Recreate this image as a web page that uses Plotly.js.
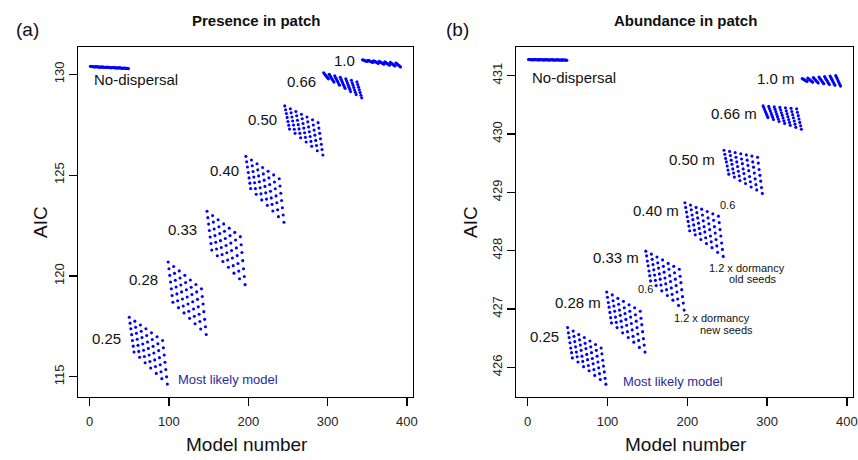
<!DOCTYPE html>
<html><head><meta charset="utf-8">
<script src="https://cdn.plot.ly/plotly-3.0.1.min.js"></script>
<style>html,body{margin:0;padding:0;background:#fff}#chart{width:858px;height:460px}</style>
</head><body><div id="chart"></div>
<script>
// Dispersal-distance groups (49 models each), in model-number order
const groupLabelsA = ['No-dispersal','0.25','0.28','0.33','0.40','0.50','0.66','1.0'];
const groupLabelsB = ['No-dispersal','0.25','0.28 m','0.33 m','0.40 m','0.50 m','0.66 m','1.0 m'];
const xTicks = [0,100,200,300,400];
const yTicksA = [115,120,125,130];
const yTicksB = [426,427,428,429,430,431];

// (a) Presence in patch - AIC
const presNoDisp = [130.390,130.385,130.380,130.375,130.370,130.365,130.360,
130.377,130.372,130.367,130.362,130.357,130.352,130.347,
130.363,130.358,130.353,130.348,130.343,130.338,130.333,
130.350,130.345,130.340,130.335,130.330,130.325,130.320,
130.337,130.332,130.327,130.322,130.317,130.312,130.307,
130.323,130.318,130.313,130.308,130.303,130.298,130.293,
130.310,130.305,130.300,130.295,130.290,130.285,130.280];
const pres025 = [117.95,117.66,117.38,117.09,116.80,116.52,116.23,
117.76,117.46,117.16,116.86,116.56,116.26,115.97,
117.57,117.26,116.95,116.63,116.32,116.01,115.70,
117.38,117.05,116.73,116.41,116.08,115.76,115.44,
117.18,116.85,116.51,116.18,115.84,115.51,115.17,
116.99,116.64,116.30,115.95,115.60,115.25,114.91,
116.80,116.44,116.08,115.72,115.36,115.00,114.64];
const pres028 = [120.69,120.36,120.03,119.70,119.36,119.03,118.70,
120.47,120.13,119.79,119.45,119.11,118.77,118.43,
120.25,119.90,119.55,119.21,118.86,118.51,118.17,
120.03,119.67,119.32,118.96,118.61,118.25,117.90,
119.80,119.44,119.08,118.72,118.36,118.00,117.63,
119.58,119.21,118.84,118.47,118.10,117.74,117.37,
119.36,118.98,118.61,118.23,117.85,117.48,117.10];
const pres033 = [123.21,122.89,122.57,122.25,121.93,121.61,121.29,
123.00,122.67,122.33,122.00,121.67,121.34,121.00,
122.79,122.44,122.10,121.75,121.41,121.06,120.72,
122.58,122.22,121.86,121.51,121.15,120.79,120.43,
122.37,122.00,121.63,121.26,120.89,120.51,120.14,
122.16,121.78,121.39,121.01,120.62,120.24,119.86,
121.95,121.55,121.16,120.76,120.36,119.97,119.57];
const pres040 = [125.93,125.66,125.40,125.13,124.86,124.60,124.33,
125.75,125.46,125.18,124.90,124.62,124.33,124.05,
125.56,125.26,124.96,124.67,124.37,124.07,123.77,
125.38,125.06,124.75,124.44,124.12,123.81,123.50,
125.19,124.86,124.53,124.20,123.87,123.55,123.22,
125.01,124.66,124.32,123.97,123.63,123.28,122.94,
124.82,124.46,124.10,123.74,123.38,123.02,122.66];
const pres050 = [128.43,128.24,128.05,127.86,127.66,127.47,127.28,
128.29,128.09,127.88,127.68,127.48,127.27,127.07,
128.15,127.94,127.72,127.50,127.29,127.07,126.85,
128.02,127.79,127.56,127.33,127.10,126.87,126.64,
127.88,127.64,127.39,127.15,126.91,126.67,126.43,
127.74,127.48,127.23,126.98,126.72,126.47,126.21,
127.60,127.33,127.07,126.80,126.53,126.27,126.00];
const pres066 = [130.07,130.02,129.97,129.92,129.87,129.82,129.77,
130.00,129.93,129.87,129.80,129.74,129.68,129.61,
129.92,129.84,129.77,129.69,129.61,129.53,129.46,
129.85,129.75,129.66,129.57,129.48,129.39,129.30,
129.77,129.67,129.56,129.46,129.35,129.25,129.14,
129.70,129.58,129.46,129.34,129.22,129.11,128.99,
129.62,129.49,129.36,129.23,129.09,128.96,128.83];
const pres100 = [130.720,130.705,130.690,130.675,130.660,130.645,130.630,
130.693,130.675,130.657,130.639,130.621,130.603,130.585,
130.667,130.646,130.625,130.604,130.582,130.561,130.540,
130.640,130.616,130.592,130.567,130.543,130.519,130.495,
130.613,130.586,130.559,130.532,130.504,130.477,130.450,
130.587,130.557,130.526,130.496,130.466,130.435,130.405,
130.560,130.527,130.493,130.460,130.427,130.393,130.360];

// (b) Abundance in patch - AIC
const abunNoDisp = [431.276,431.275,431.274,431.273,431.272,431.271,431.270,
431.275,431.274,431.273,431.272,431.271,431.270,431.269,
431.274,431.273,431.272,431.271,431.270,431.269,431.268,
431.273,431.272,431.271,431.270,431.269,431.268,431.267,
431.272,431.271,431.270,431.269,431.268,431.267,431.266,
431.271,431.270,431.269,431.268,431.267,431.266,431.265,
431.270,431.269,431.268,431.267,431.266,431.265,431.264];
const abun025 = [426.68,426.59,426.51,426.42,426.33,426.25,426.16,
426.62,426.53,426.44,426.35,426.26,426.18,426.09,
426.56,426.47,426.38,426.29,426.19,426.10,426.01,
426.51,426.41,426.32,426.22,426.13,426.03,425.94,
426.45,426.35,426.25,426.15,426.06,425.96,425.86,
426.39,426.29,426.19,426.09,425.99,425.89,425.79,
426.33,426.23,426.12,426.02,425.92,425.81,425.71];
const abun028 = [427.29,427.20,427.11,427.03,426.94,426.85,426.76,
427.24,427.14,427.05,426.96,426.86,426.77,426.68,
427.18,427.08,426.98,426.89,426.79,426.69,426.59,
427.13,427.02,426.92,426.82,426.72,426.61,426.51,
427.07,426.96,426.86,426.75,426.64,426.53,426.43,
427.02,426.90,426.79,426.68,426.57,426.46,426.34,
426.96,426.84,426.73,426.61,426.49,426.38,426.26];
const abun033 = [427.99,427.91,427.82,427.74,427.65,427.57,427.48,
427.94,427.85,427.76,427.67,427.58,427.49,427.40,
427.89,427.79,427.70,427.60,427.51,427.41,427.31,
427.84,427.73,427.63,427.53,427.43,427.33,427.23,
427.78,427.68,427.57,427.47,427.36,427.25,427.15,
427.73,427.62,427.51,427.40,427.29,427.17,427.06,
427.68,427.56,427.45,427.33,427.21,427.10,426.98];
const abun040 = [428.82,428.74,428.66,428.58,428.50,428.42,428.34,
428.78,428.70,428.61,428.53,428.44,428.35,428.27,
428.74,428.65,428.56,428.47,428.38,428.29,428.19,
428.71,428.61,428.51,428.41,428.32,428.22,428.12,
428.67,428.56,428.46,428.36,428.25,428.15,428.05,
428.63,428.52,428.41,428.30,428.19,428.08,427.97,
428.59,428.48,428.36,428.25,428.13,428.02,427.90];
const abun050 = [429.72,429.65,429.58,429.52,429.45,429.38,429.31,
429.70,429.63,429.55,429.48,429.40,429.33,429.26,
429.68,429.60,429.52,429.44,429.36,429.28,429.20,
429.66,429.57,429.49,429.40,429.32,429.23,429.15,
429.64,429.55,429.46,429.37,429.27,429.18,429.09,
429.62,429.52,429.43,429.33,429.23,429.13,429.04,
429.60,429.50,429.39,429.29,429.19,429.08,428.98];
const abun066 = [430.480,430.447,430.413,430.380,430.347,430.313,430.280,
430.472,430.434,430.397,430.359,430.322,430.284,430.247,
430.463,430.421,430.380,430.338,430.296,430.255,430.213,
430.455,430.409,430.363,430.318,430.272,430.226,430.180,
430.447,430.397,430.347,430.297,430.247,430.197,430.147,
430.438,430.384,430.330,430.276,430.221,430.167,430.113,
430.430,430.372,430.313,430.255,430.197,430.138,430.080];
const abun100 = [430.950,430.942,430.933,430.925,430.917,430.908,430.900,
430.958,430.946,430.934,430.922,430.911,430.899,430.887,
430.967,430.951,430.936,430.920,430.904,430.889,430.873,
430.975,430.956,430.937,430.918,430.898,430.879,430.860,
430.983,430.960,430.937,430.915,430.892,430.869,430.847,
430.992,430.966,430.939,430.913,430.886,430.860,430.833,
431.000,430.970,430.940,430.910,430.880,430.850,430.820];

const presGroups = [presNoDisp,pres025,pres028,pres033,pres040,pres050,pres066,pres100];
const abunGroups = [abunNoDisp,abun025,abun028,abun033,abun040,abun050,abun066,abun100];

function byModel(groups){
  const x=[], y=[]; let m=0;
  groups.forEach(g => g.forEach(v => { m += 1; x.push(m); y.push(v); }));
  return {x, y};
}
const A = byModel(presGroups), B = byModel(abunGroups);

const W = 858, H = 460;
const FONT = 'Liberation Sans, Arial, Helvetica, sans-serif';
const dotStyle = {color:'#0000ff', size:3.1, line:{width:0}};

const traces = [
  {type:'scatter', mode:'markers', x:A.x, y:A.y, xaxis:'x', yaxis:'y', marker:dotStyle, hoverinfo:'skip'},
  {type:'scatter', mode:'markers', x:B.x, y:B.y, xaxis:'x2', yaxis:'y2', marker:dotStyle, hoverinfo:'skip'}
];

const yDom = [1-397/H, 1-47/H];
function xa(dom){ return {domain:dom, range:[-14.64,407.64], tickvals:xTicks, ticktext:xTicks.map(String),
  showline:true, mirror:true, linecolor:'#000', linewidth:1.2, ticks:'outside', ticklen:8, tickwidth:1.2, tickcolor:'#000',
  ticklabelstandoff:4,
  showgrid:false, zeroline:false, tickfont:{family:FONT, size:13, color:'#222'}}; }
function ya(range, ticks){ return {domain:yDom, range:range, tickvals:ticks, ticktext:ticks.map(String), tickangle:-90,
  showline:true, mirror:true, linecolor:'#000', linewidth:1.2, ticks:'outside', ticklen:8, tickwidth:1.2, tickcolor:'#000',
  showgrid:false, zeroline:false, tickfont:{family:FONT, size:13, color:'#222'}}; }

function lab(text, x, y, xr, yr, opt){
  return Object.assign({text:text, x:x, y:y, xref:xr, yref:yr, showarrow:false,
    xanchor:'right', yanchor:'middle', font:{family:FONT, size:15, color:'#111'}}, opt||{});
}
function paperLab(text, px, py, opt){
  return Object.assign({text:text, x:px/W, y:1-py/H, xref:'paper', yref:'paper', showarrow:false,
    xanchor:'center', yanchor:'middle', font:{family:FONT, size:19, color:'#111'}}, opt||{});
}
const navy = '#2a2a9c';
const annotations = [
  paperLab('(a)', 27, 30),
  paperLab('(b)', 457, 30),
  paperLab('<b>Presence in patch</b>', 256, 21, {font:{family:FONT, size:15, color:'#111'}}),
  paperLab('<b>Abundance in patch</b>', 685, 21, {font:{family:FONT, size:15, color:'#111'}}),
  paperLab('AIC', 40, 222, {textangle:-90}),
  paperLab('AIC', 470, 222, {textangle:-90}),
  paperLab('Model number', 247, 444),
  paperLab('Model number', 686, 444),
  // panel (a)
  lab(groupLabelsA[0], 3, 129.76, 'x', 'y', {xanchor:'left'}),
  lab(groupLabelsA[7], 336.6, 130.66, 'x', 'y'),
  lab(groupLabelsA[6], 287.5, 129.64, 'x', 'y'),
  lab(groupLabelsA[5], 238.4, 127.75, 'x', 'y'),
  lab(groupLabelsA[4], 190.2, 125.25, 'x', 'y'),
  lab(groupLabelsA[3], 137.7, 122.32, 'x', 'y'),
  lab(groupLabelsA[2], 88.6, 119.83, 'x', 'y'),
  lab(groupLabelsA[1], 41.7, 116.91, 'x', 'y'),
  lab('Most likely model', 174.6, 114.87, 'x', 'y', {xanchor:'center', font:{family:FONT, size:13, color:navy}}),
  // panel (b)
  lab(groupLabelsB[0], 2.9, 430.97, 'x2', 'y2', {xanchor:'left'}),
  lab(groupLabelsB[7], 337.1, 430.95, 'x2', 'y2'),
  lab(groupLabelsB[6], 290.2, 430.35, 'x2', 'y2'),
  lab(groupLabelsB[5], 236.8, 429.56, 'x2', 'y2'),
  lab(groupLabelsB[4], 192.1, 428.68, 'x2', 'y2'),
  lab(groupLabelsB[3], 141.6, 427.88, 'x2', 'y2'),
  lab(groupLabelsB[2], 94.7, 427.11, 'x2', 'y2'),
  lab(groupLabelsB[1], 41.4, 426.52, 'x2', 'y2'),
  lab('0.6', 250.6, 428.78, 'x2', 'y2', {xanchor:'center', font:{family:FONT, size:11, color:'#111'}}),
  lab('1.2 x dormancy', 275.2, 427.71, 'x2', 'y2', {xanchor:'center', font:{family:FONT, size:11, color:'#111'}}),
  lab('old seeds', 282.7, 427.51, 'x2', 'y2', {xanchor:'center', font:{family:FONT, size:11, color:'#111'}}),
  lab('0.6', 147.6, 427.34, 'x2', 'y2', {xanchor:'center', font:{family:FONT, size:11, color:'#111'}}),
  lab('1.2 x dormancy', 231.2, 426.84, 'x2', 'y2', {xanchor:'center', font:{family:FONT, size:11, color:'#111'}}),
  lab('new seeds', 249.4, 426.64, 'x2', 'y2', {xanchor:'center', font:{family:FONT, size:11, color:'#111'}}),
  lab('Most likely model', 181.5, 425.75, 'x2', 'y2', {xanchor:'center', font:{family:FONT, size:13, color:navy}})
];

const layout = {
  width:W, height:H, margin:{l:0,r:0,t:0,b:0}, showlegend:false,
  paper_bgcolor:'#fff', plot_bgcolor:'#fff', font:{family:FONT, color:'#111'},
  xaxis: Object.assign(xa([78/W, 413/W]), {anchor:'y'}),
  yaxis: Object.assign(ya([114.0,131.35], yTicksA), {anchor:'x'}),
  xaxis2: Object.assign(xa([516/W, 853/W]), {anchor:'y2'}),
  yaxis2: Object.assign(ya([425.49,431.49], yTicksB), {anchor:'x2'}),
  annotations: annotations
};
Plotly.newPlot('chart', traces, layout, {staticPlot:true, displayModeBar:false});
</script>
</body></html>
